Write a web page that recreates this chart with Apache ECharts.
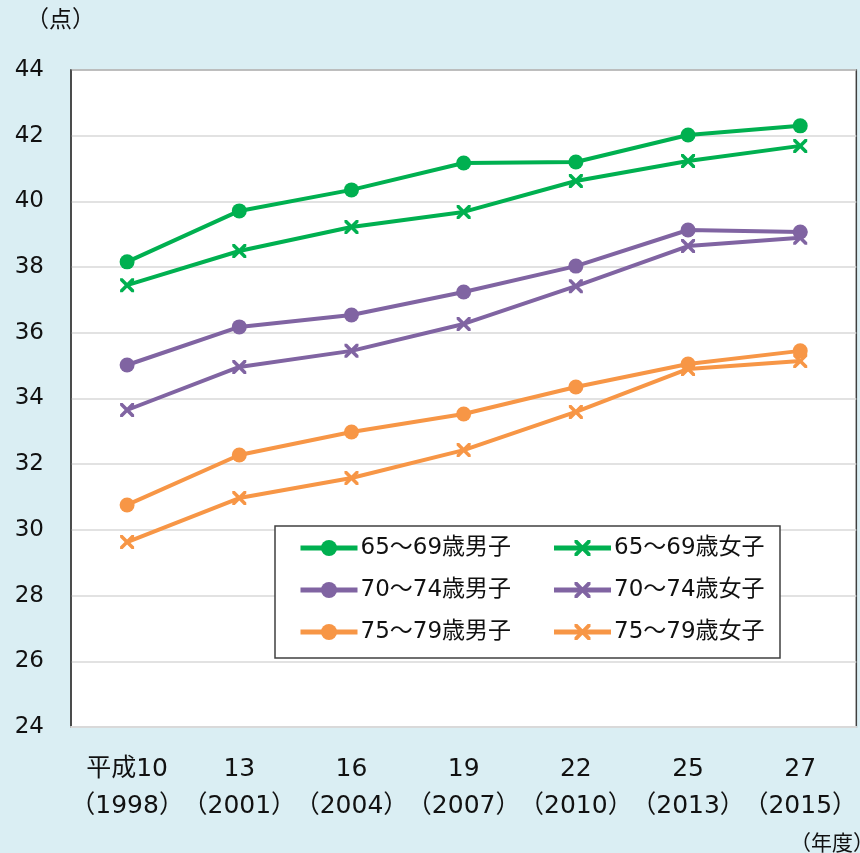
<!DOCTYPE html>
<html>
<head>
<meta charset="utf-8">
<script src="https://cdn.jsdelivr.net/npm/echarts@6/dist/echarts.min.js"></script>
<style>
  html, body { margin: 0; padding: 0; background: #DAEEF3; }
  #chart { width: 860px; height: 853px; }
</style>
</head>
<body>
<div id="chart"></div>
<script>
// 年度
const years = ['平成10\n（1998）', '13\n（2001）', '16\n（2004）', '19\n（2007）', '22\n（2010）', '25\n（2013）', '27\n（2015）'];

// 各年齢層の合計点
const m65 = [38.16, 39.71, 40.35, 41.17, 41.20, 42.02, 42.30];
const f65 = [37.45, 38.49, 39.22, 39.68, 40.62, 41.23, 41.69];
const m70 = [35.02, 36.18, 36.54, 37.24, 38.03, 39.13, 39.07];
const f70 = [33.65, 34.96, 35.45, 36.27, 37.42, 38.64, 38.89];
const m75 = [30.76, 32.28, 32.98, 33.53, 34.35, 35.05, 35.45];
const f75 = [29.63, 30.97, 31.58, 32.43, 33.59, 34.90, 35.14];

const GREEN = '#00B050', PURPLE = '#8064A2', ORANGE = '#F79646';
const FONT = '"DejaVu Sans", "Noto Sans CJK JP", sans-serif';
const INK = '#111';
// ×印
const CROSS = 'path://M0,0 L2.5,0 L7,4.5 L11.5,0 L14,0 L14,2.5 L9.5,7 L14,11.5 L14,14 L11.5,14 L7,9.5 L2.5,14 L0,14 L0,11.5 L4.5,7 L0,2.5 Z';

function mkSeries(name, data, color, female) {
  return {
    name: name,
    type: 'line',
    data: data,
    symbol: female ? CROSS : 'circle',
    symbolSize: female ? 14 : 15,
    lineStyle: { color: color, width: 4 },
    itemStyle: { color: color },
    emphasis: { disabled: true },
    z: 3
  };
}

const chart = echarts.init(document.getElementById('chart'));
chart.setOption({
  backgroundColor: '#DAEEF3',
  animation: false,
  textStyle: { fontFamily: FONT },
  grid: {
    left: 71, right: 3, top: 70, bottom: 126,
    show: true,
    backgroundColor: '#fff',
    borderColor: '#404040',
    borderWidth: 1.5
  },
  graphic: [
    {
      type: 'rect', z: 5,
      shape: { x: 275, y: 526, width: 505, height: 132 },
      style: { fill: '#fff', stroke: '#404040', lineWidth: 1.5 }
    },
    {
      type: 'text', left: 26, top: 10,
      style: { text: '（点）', fontSize: 23, fontFamily: FONT, fill: INK }
    },
    {
      type: 'text', left: 790, top: 834,
      style: { text: '（年度）', fontSize: 21, fontFamily: FONT, fill: INK }
    }
  ],
  legend: {
    left: 298,
    top: 532,
    width: 505,
    padding: 0,
    itemGap: 10,
    itemWidth: 57,
    itemHeight: 20,
    z: 10,
    lineStyle: { width: 5 },
    textStyle: {
      fontFamily: FONT,
      fontSize: 23,
      color: INK,
      width: 181,
      lineHeight: 32,
      padding: [0, 0, 0, -2]
    },
    data: ['65～69歳男子', '65～69歳女子', '70～74歳男子', '70～74歳女子', '75～79歳男子', '75～79歳女子']
  },
  xAxis: {
    type: 'category',
    data: years,
    boundaryGap: true,
    axisLine: { lineStyle: { color: '#D9D9D9', width: 2 } },
    axisTick: { show: false },
    axisLabel: {
      fontSize: 25,
      color: INK,
      lineHeight: 37,
      margin: 24,
      interval: 0
    }
  },
  yAxis: {
    type: 'value',
    min: 24,
    max: 44,
    interval: 2,
    axisLine: { show: true, lineStyle: { color: '#404040', width: 1.5 } },
    axisTick: { show: false },
    splitLine: { lineStyle: { color: '#D9D9D9', width: 1.5 } },
    axisLabel: { fontSize: 23, color: INK, margin: 27 }
  },
  series: [
    mkSeries('65～69歳男子', m65, GREEN, false),
    mkSeries('65～69歳女子', f65, GREEN, true),
    mkSeries('70～74歳男子', m70, PURPLE, false),
    mkSeries('70～74歳女子', f70, PURPLE, true),
    mkSeries('75～79歳男子', m75, ORANGE, false),
    mkSeries('75～79歳女子', f75, ORANGE, true)
  ]
});
</script>
</body>
</html>
